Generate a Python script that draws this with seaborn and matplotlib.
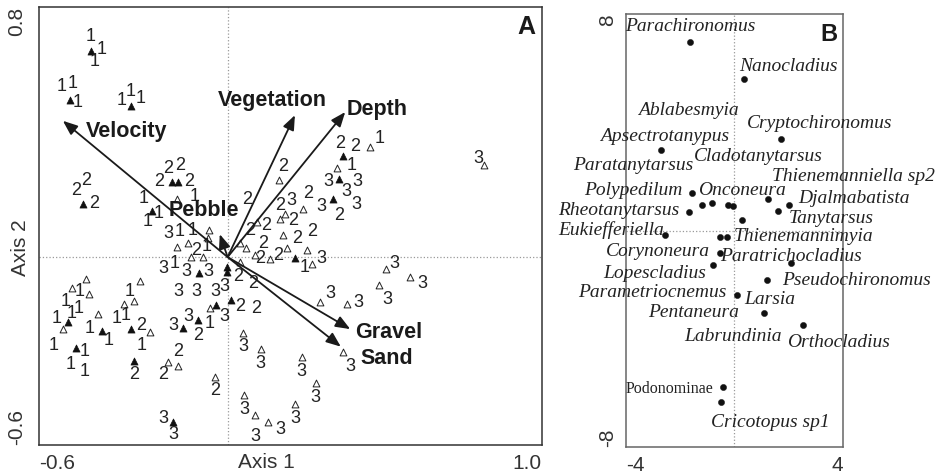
import matplotlib
matplotlib.use("Agg")
import matplotlib.pyplot as plt
import pandas as pd
import seaborn as sns

# ---------------- Panel A data (CCA site scores) ----------------
tri_x = [-0.436, -0.502, -0.308, -0.460, -0.178, -0.157, -0.162, -0.239, -0.059, -0.062,
         -0.162, -0.125, -0.115, -0.078, 0.164, 0.241, 0.167, 0.182, 0.092, 0.175,
         0.039, 0.058, 0.188, 0.252, 0.087, 0.135, 0.214, 0.268, 0.336, -0.090,
         -0.003, -0.001, -0.037, -0.056, 0.010, -0.141, -0.094, 0.294, -0.247, 0.050,
         -0.451, -0.494, -0.441, -0.508, -0.524, -0.481, -0.412, -0.401, -0.279, -0.330,
         -0.297, -0.308, -0.298, -0.189, -0.157, -0.040, -0.173, 0.105, 0.236, 0.280,
         0.052, 0.087, 0.129, 0.214, 0.504, 0.581, 0.483, 0.379, 0.366, 0.453,
         0.366, 0.349, 0.355, 0.817, 0.039]
tri_y = [0.658, 0.503, 0.482, 0.171, 0.240, 0.240, 0.187, 0.148, 0.088, 0.060,
         0.033, 0.044, 0.001, 0.001, 0.246, 0.155, 0.123, 0.139, 0.113, 0.070,
         0.044, 0.028, 0.028, 0.022, 0.006, -0.007, -0.004, -0.022, 0.187, -0.052,
         -0.031, -0.047, -0.153, -0.164, -0.137, -0.227, -0.201, -0.143, -0.238, -0.243,
         -0.071, -0.100, -0.118, -0.206, -0.231, -0.291, -0.182, -0.235, -0.076, -0.150,
         -0.139, -0.231, -0.331, -0.334, -0.348, -0.382, -0.525, -0.294, -0.320, -0.403,
         -0.440, -0.504, -0.525, -0.469, -0.039, -0.065, -0.089, -0.150, -0.302, 0.352,
         0.322, 0.283, 0.248, 0.293, -0.015]
tri_filled = [1, 1, 1, 1, 1, 1, 0, 1, 0, 0,
              0, 0, 0, 0, 0, 0, 0, 0, 0, 0,
              0, 0, 0, 0, 0, 0, 1, 0, 1, 1,
              1, 1, 1, 0, 1, 1, 1, 0, 0, 0,
              0, 0, 0, 1, 0, 1, 0, 1, 0, 0,
              0, 1, 1, 0, 0, 0, 1, 0, 0, 0,
              0, 0, 0, 0, 0, 0, 0, 0, 0, 0,
              1, 0, 1, 0, 0]

num_x = [-0.436, -0.401, -0.423, -0.529, -0.494, -0.476, -0.338, -0.309, -0.277, -0.483,
         -0.451, -0.425, -0.189, -0.152, -0.218, -0.122, -0.106, -0.267, -0.221, -0.253,
         0.061, -0.189, -0.152, -0.111, 0.177, 0.257, 0.204, 0.299, 0.167, 0.209,
         0.124, 0.071, 0.268, 0.220, 0.113, 0.161, 0.103, 0.299, 0.246, -0.067,
         -0.099, 0.320, -0.205, -0.168, -0.131, -0.062, 0.034, 0.082, -0.009, -0.157,
         -0.099, -0.040, 0.039, 0.092, -0.009, -0.173, -0.125, -0.056, -0.094, 0.326,
         -0.274, 0.050, -0.157, -0.470, -0.515, -0.473, -0.543, -0.497, -0.552, -0.454,
         -0.500, -0.454, -0.439, -0.377, -0.311, -0.354, -0.324, -0.274, -0.298, -0.205,
         -0.040, -0.205, -0.173, 0.105, 0.233, 0.278, 0.052, 0.087, 0.167, 0.214,
         0.530, 0.618, 0.508, 0.416, 0.389, 0.358, 0.405, 0.485, 0.395, 0.414,
         0.379, 0.411, 0.355, 0.798]
num_y = [0.703, 0.663, 0.623, 0.545, 0.554, 0.495, 0.501, 0.530, 0.506, 0.214,
         0.246, 0.171, 0.283, 0.291, 0.240, 0.240, 0.192, 0.187, 0.139, 0.113,
         0.185, 0.076, 0.081, 0.084, 0.288, 0.203, 0.182, 0.160, 0.166, 0.118,
         0.102, 0.086, 0.081, 0.060, 0.044, 0.006, -0.004, -0.004, -0.032, 0.033,
         0.022, 0.240, -0.036, -0.020, -0.047, -0.047, -0.063, -0.084, -0.095, -0.111,
         -0.111, -0.111, -0.159, -0.164, -0.190, -0.217, -0.190, -0.211, -0.249, -0.116,
         -0.217, -0.286, -0.302, -0.111, -0.143, -0.164, -0.196, -0.180, -0.281, -0.302,
         -0.344, -0.366, -0.227, -0.265, -0.111, -0.196, -0.185, -0.281, -0.376, -0.376,
         -0.426, -0.515, -0.568, -0.339, -0.366, -0.448, -0.486, -0.573, -0.550, -0.515,
         -0.020, -0.084, -0.135, -0.146, -0.350, 0.363, 0.352, 0.379, 0.293, 0.240,
         0.208, 0.169, 0.134, 0.315]
num_txt = ["1", "1", "1", "1", "1", "1", "1", "1", "1", "2",
           "2", "2", "2", "2", "2", "2", "1", "1", "1", "1",
           "2", "3", "1", "1", "2", "2", "3", "3", "2", "2",
           "2", "2", "2", "2", "2", "2", "2", "3", "1", "1",
           "2", "3", "3", "1", "3", "3", "2", "2", "3", "3",
           "3", "3", "2", "2", "3", "3", "3", "1", "2", "3",
           "2", "3", "2", "1", "1", "1", "1", "1", "1", "1",
           "1", "1", "1", "1", "1", "1", "1", "1", "2", "2",
           "2", "3", "3", "3", "3", "3", "3", "3", "3", "3",
           "3", "3", "3", "3", "3", "2", "2", "1", "1", "3",
           "3", "3", "2", "3"]

env_names = ["Velocity", "Vegetation", "Depth", "Pebble", "Gravel", "Sand"]
env_x = [-0.524, 0.214, 0.374, -0.025, 0.390, 0.360]
env_y = [0.435, 0.453, 0.463, 0.073, -0.230, -0.286]
env_lab_x = [-0.451, -0.030, 0.379, -0.189, 0.405, 0.421]
env_lab_y = [0.384, 0.482, 0.453, 0.131, -0.259, -0.341]

# ---------------- Panel B data (species scores) ----------------
sp_names = ["Parachironomus", "Nanocladius", "Ablabesmyia", "Cryptochironomus",
            "Apsectrotanypus", "Cladotanytarsus", "Paratanytarsus", "Thienemanniella sp2",
            "Polypedilum", "Onconeura", "Djalmabatista", "Rheotanytarsus", "Tanytarsus",
            "Eukiefferiella", "Thienemannimyia", "Corynoneura", "Paratrichocladius",
            "Lopescladius", "Pseudochironomus", "Parametriocnemus", "Larsia", "Pentaneura",
            "Labrundinia", "Orthocladius", "Podonominae", "Cricotopus sp1"]
sp_lab_x = [-4.03, 0.18, -3.57, 0.48, -4.96, -1.50, -5.96, 1.38, -5.55, -1.33,
            2.36, -6.50, 1.99, -6.50, -0.04, -4.74, -0.53, -4.84, 1.75, -5.76,
            0.36, -3.18, -1.84, 1.93, -4.00, -0.87]
sp_lab_y = [7.54, 6.06, 4.46, 3.97, 3.50, 2.73, 2.43, 2.00, 1.50, 1.50,
            1.20, 0.76, 0.46, 0.03, -0.22, -0.77, -0.96, -1.58, -1.82, -2.29,
            -2.54, -3.03, -3.89, -4.14, -5.86, -7.10]
sp_x = [-1.64, 0.36, 1.72, -2.71, -1.56, -1.66, -1.18, -0.81, -0.22, -0.04,
        1.26, 1.60, 2.03, 0.30, -2.56, -0.53, -0.28, -0.53, 2.09, -0.78,
        1.20, 0.09, 1.10, 2.55, -0.41, -0.49]
sp_y = [6.96, 5.61, 3.38, 2.98, 1.38, 0.68, 0.95, 1.01, 0.95, 0.92,
        1.17, 0.73, 0.95, 0.40, -0.16, -0.24, -0.22, -0.81, -1.18, -1.27,
        -1.80, -2.38, -3.02, -3.48, -5.76, -6.32]

# ---------------- Figure ----------------
sns.set_style("white")
plt.rcParams["font.family"] = ["Liberation Sans", "DejaVu Sans"]

W, H = 942, 475
fig = plt.figure(figsize=(W / 100, H / 100), dpi=100)
axA = fig.add_axes([39 / W, 1 - 445 / H, (542 - 39) / W, (445 - 6.5) / H])
axB = fig.add_axes([626 / W, 1 - 447.3 / H, (842.7 - 626) / W, (447.3 - 14.3) / H])

tri = pd.DataFrame({"x": tri_x, "y": tri_y, "filled": tri_filled})
sns.scatterplot(data=tri[tri.filled == 0], x="x", y="y", marker="^", s=24,
                facecolor="white", edgecolor="#222", linewidth=0.7, ax=axA, zorder=3)
sns.scatterplot(data=tri[tri.filled == 1], x="x", y="y", marker="^", s=26,
                color="#111", edgecolor="#111", linewidth=0.5, ax=axA, zorder=3)

for x, y, t in zip(num_x, num_y, num_txt):
    axA.text(x, y, t, fontsize=13, ha="center", va="center", color="#222", zorder=4)

for name, ex, ey, lx, ly in zip(env_names, env_x, env_y, env_lab_x, env_lab_y):
    axA.annotate("", xy=(ex, ey), xytext=(0, 0),
                 arrowprops=dict(arrowstyle="-|>,head_length=0.55,head_width=0.22",
                                 color="#1a1a1a", lw=1.3, mutation_scale=16,
                                 shrinkA=0, shrinkB=0), zorder=5)
    axA.text(lx, ly, name, fontsize=15.5, fontweight="bold", ha="left", va="baseline",
             color="#1a1a1a", zorder=6)

axA.axvline(0, color="#999", ls=":", lw=0.9, zorder=1)
axA.axhline(0, color="#999", ls=":", lw=0.9, zorder=1)
axA.set_xlim(-0.6, 1.0)
axA.set_ylim(-0.6, 0.8)
xt = [-0.6, -0.4, -0.2, 0.0, 0.2, 0.4, 0.6, 0.8, 1.0]
yt = [-0.6, -0.4, -0.2, 0.0, 0.2, 0.4, 0.6, 0.8]
axA.set_xticks(xt)
axA.set_xticklabels(["-0.6"] + [""] * 7 + ["1.0"])
axA.set_yticks(yt)
axA.set_yticklabels(["-0.6"] + [""] * 6 + ["0.8"], rotation=90)
axA.tick_params(axis="x", direction="out", length=3.5, width=1, pad=3,
                labelsize=15, colors="#333")
axA.tick_params(axis="y", direction="inout", length=5, width=1, pad=7,
                labelsize=15, colors="#333")
xl = axA.get_xticklabels()
xl[0].set_ha("left"); xl[-1].set_ha("right")
yl = axA.get_yticklabels()
yl[0].set_va("bottom"); yl[-1].set_va("top")
axA.set_xlabel(""); axA.set_ylabel("")
for s in axA.spines.values():
    s.set_color("#333"); s.set_linewidth(1.1)
axA.text(0.979, 0.772, "A", fontsize=18, fontweight="bold", ha="right", va="top",
         color="#1a1a1a")
fig.text(266 / W, 1 - 463 / H, "Axis 1", fontsize=15, ha="center", va="center", color="#333")
fig.text(20 / W, 1 - 248 / H, "Axis 2", fontsize=15, ha="center", va="center",
         rotation=90, color="#333")

# Panel B
sp = pd.DataFrame({"x": sp_x, "y": sp_y})
sns.scatterplot(data=sp, x="x", y="y", s=20, color="#111", edgecolor="#111",
                linewidth=0.3, ax=axB, zorder=3)
for name, lx, ly in zip(sp_names, sp_lab_x, sp_lab_y):
    if name == "Podonominae":
        axB.text(lx, ly, name, fontsize=11.5, family="Liberation Serif", ha="left",
                 va="center", color="#222", zorder=4)
    else:
        axB.text(lx, ly, name, fontsize=14, family="Liberation Serif", style="italic",
                 ha="left", va="center", color="#222", zorder=4)
axB.axvline(0, color="#999", ls=":", lw=0.9, zorder=1)
axB.axhline(0, color="#999", ls=":", lw=0.9, zorder=1)
axB.set_xlim(-4, 4)
axB.set_ylim(-8, 8)
axB.set_xticks([-4, -2, 0, 2, 4])
axB.set_xticklabels(["-4", "", "", "", "4"])
axB.set_yticks([-8, -5, -1, 5, 8])
axB.set_yticklabels(["-8", "", "", "", "8"], rotation=90)
axB.tick_params(axis="x", direction="out", length=3.5, width=1, pad=3,
                labelsize=15, colors="#333")
axB.tick_params(axis="y", direction="inout", length=5, width=1, pad=4,
                labelsize=15, colors="#333")
xl = axB.get_xticklabels()
xl[0].set_ha("left"); xl[-1].set_ha("right")
yl = axB.get_yticklabels()
yl[0].set_va("bottom"); yl[-1].set_va("top")
axB.set_xlabel(""); axB.set_ylabel("")
for s in axB.spines.values():
    s.set_color("#666"); s.set_linewidth(1.1)
axB.text(3.79, 7.68, "B", fontsize=17, fontweight="bold", ha="right", va="top",
         color="#1a1a1a")

fig.savefig("out.png", dpi=100)
